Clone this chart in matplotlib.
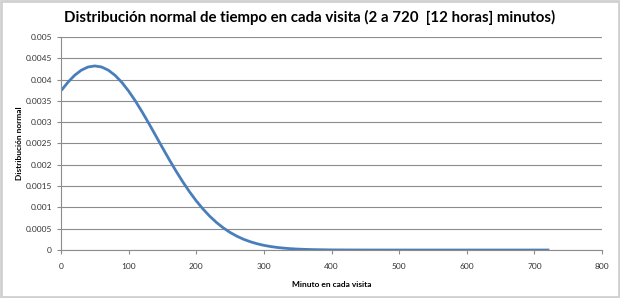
import matplotlib.pyplot as plt
from matplotlib.patches import Rectangle

# values
minutos = [2, 10, 20, 30, 40, 50, 60, 70, 80, 90, 100, 110, 120, 130, 140,
           150, 160, 170, 180, 190, 200, 210, 220, 230, 240, 250, 260, 270,
           280, 290, 300, 310, 320, 330, 340, 350, 360, 375, 400, 425, 450,
           500, 550, 600, 650, 700, 720]
densidad = [0.003774, 0.003933, 0.004098, 0.00422, 0.004295, 0.00432,
            0.004295, 0.00422, 0.004098, 0.003933, 0.00373, 0.003497,
            0.00324, 0.002967, 0.002685, 0.002402, 0.002123, 0.001855,
            0.001602, 0.001367, 0.001153, 0.000962, 0.000792, 0.000645,
            0.000519, 0.000413, 0.000325, 0.000252, 0.000194, 0.000147,
            0.00011, 0.0000817, 0.0000599, 0.0000433, 0.000031, 0.000022,
            0.0000153, 0.000009, 0.000003, 0.0000011, 0.0000003,
            0.0, 0.0, 0.0, 0.0, 0.0, 0.0]

x_ticks = [0, 100, 200, 300, 400, 500, 600, 700, 800]
y_ticks = [0, 0.0005, 0.001, 0.0015, 0.002, 0.0025, 0.003, 0.0035, 0.004, 0.0045, 0.005]
y_labels = ['0', '0.0005', '0.001', '0.0015', '0.002', '0.0025', '0.003',
            '0.0035', '0.004', '0.0045', '0.005']

plt.rcParams['font.family'] = ['Lato', 'DejaVu Sans']

fig = plt.figure(figsize=(6.2, 2.98), dpi=100)
fig.patches.append(Rectangle((0.002, 0.004), 0.996, 0.992, transform=fig.transFigure,
                             fill=False, edgecolor='#d0d0d0', linewidth=2))

ax = fig.add_axes([0.0984, 0.161, 0.8726, 0.715])
ax.plot(minutos, densidad, color='#4a7ebb', linewidth=2)

ax.set_xlim(0, 800)
ax.set_ylim(0, 0.005)
ax.set_xticks(x_ticks)
ax.set_yticks(y_ticks)
ax.set_yticklabels(y_labels)
ax.grid(axis='y', color='#8c8c8c', linewidth=0.8)
ax.set_axisbelow(True)

for s in ['top', 'right']:
    ax.spines[s].set_visible(False)
for s in ['left', 'bottom']:
    ax.spines[s].set_color('#8c8c8c')
    ax.spines[s].set_linewidth(0.8)

ax.tick_params(axis='both', labelsize=6, colors='#8c8c8c', labelcolor='#333333',
               length=3, width=0.8)
ax.tick_params(axis='x', pad=6)

ax.set_xlabel('Minuto en cada visita', fontsize=6, fontweight='bold', labelpad=8)
ax.set_ylabel('Distribución normal', fontsize=6, fontweight='bold', labelpad=2)

fig.text(0.5, 0.94, 'Distribución normal de tiempo en cada visita (2 a 720  [12 horas] minutos)',
         ha='center', va='center', fontsize=10.8, fontweight='bold')

plt.savefig('out.png', dpi=100)
